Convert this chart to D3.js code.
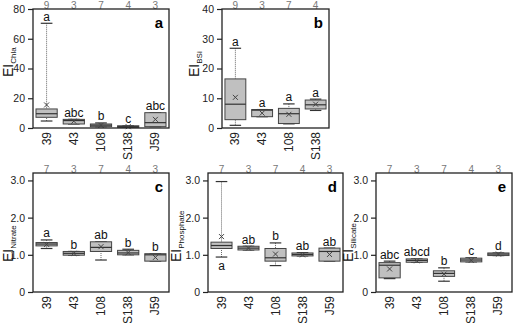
<!DOCTYPE html>
<html>
<head>
<meta charset="utf-8">
<script src="https://cdn.jsdelivr.net/npm/d3@7"></script>
<style>
    body { margin: 0; background: white; }
    svg { font-family: "Liberation Sans", Arial, sans-serif; }
</style>
</head>
<body>
<div id="chart"></div>
<script>

// sites and sample counts
const sites5 = ["39", "43", "108", "S138", "J59"];
const sites4 = ["39", "43", "108", "S138"];
const countsA = [9, 3, 7, 4, 3];
const countsB = [9, 3, 7, 4];
const countsCDE = [7, 3, 7, 4, 3];

// EI Chla
const chlaLow = [4.7, 2.7, 0.9, 0.4, 0.9];
const chlaQ1 = [7.2, 2.7, 0.9, 0.4, 0.9];
const chlaMed = [9.6, 5.0, 1.9, 0.9, 3.6];
const chlaQ3 = [12.8, 5.8, 2.7, 1.5, 10.3];
const chlaHigh = [70.4, 5.8, 3.4, 1.5, 10.3];
const chlaMean = [15.5, 4.6, 1.8, 0.9, 5.8];
const chlaLetters = ["a", "abc", "b", "c", "abc"];

// EI BSi
const bsiLow = [0.9, 3.8, 1.4, 5.9];
const bsiQ1 = [2.8, 3.8, 1.5, 6.4];
const bsiMed = [8.0, 6.0, 4.8, 7.8];
const bsiQ3 = [16.5, 6.2, 6.6, 9.4];
const bsiHigh = [26.8, 6.2, 8.1, 9.7];
const bsiMean = [10.3, 5.0, 4.6, 8.0];
const bsiLetters = ["a", "a", "a", "a"];

// EI Nitrate
const nitLow = [1.17, 0.99, 0.86, 1.0, 0.83];
const nitQ1 = [1.24, 0.99, 1.09, 1.0, 0.83];
const nitMed = [1.29, 1.04, 1.2, 1.05, 1.0];
const nitQ3 = [1.33, 1.09, 1.35, 1.12, 1.03];
const nitHigh = [1.40, 1.09, 1.35, 1.15, 1.03];
const nitMean = [1.28, 1.04, 1.22, 1.06, 0.93];
const nitLetters = ["a", "b", "ab", "b", "b"];

// EI Phosphate
const phoLow = [0.94, 1.13, 0.71, 0.97, 0.83];
const phoQ1 = [1.17, 1.13, 0.83, 0.97, 0.83];
const phoMed = [1.25, 1.18, 0.92, 1.01, 1.09];
const phoQ3 = [1.34, 1.23, 1.17, 1.05, 1.18];
const phoHigh = [2.97, 1.23, 1.32, 1.06, 1.18];
const phoMean = [1.49, 1.18, 1.02, 1.0, 1.01];
const phoLetters = ["a", "ab", "b", "ab", "ab"];

// EI Silicate
const silLow = [0.36, 0.8, 0.29, 0.81, 0.98];
const silQ1 = [0.38, 0.8, 0.42, 0.81, 0.98];
const silMed = [0.72, 0.85, 0.5, 0.86, 1.02];
const silQ3 = [0.79, 0.89, 0.57, 0.91, 1.05];
const silHigh = [0.83, 0.89, 0.65, 0.92, 1.05];
const silMean = [0.62, 0.84, 0.48, 0.85, 1.02];
const silLetters = ["abc", "abcd", "b", "c", "d"];

const ticksA = [0, 20, 40, 60, 80];
const ticksB = [0, 10, 20, 30, 40];
const ticksCDE = [0, 1, 2, 3];

const svg = d3.select("#chart").append("svg")
    .attr("width", 520)
    .attr("height", 323);

function drawPanel(p) {
    let g = svg.append("g");

    let x = d3.scaleBand().domain(p.sites).range([p.x0, p.x1]);
    let y = d3.scaleLinear().domain(p.domain).range([p.y1, p.y0]);
    let boxW = x.bandwidth() * 0.78;
    let capW = boxW * 0.55;

    let rows = p.sites.map((s, i) => ({
        site: s, low: p.low[i], q1: p.q1[i], med: p.med[i], q3: p.q3[i],
        high: p.high[i], mean: p.mean[i], letter: p.letters[i], n: p.counts[i]
    }));

    // y axis
    g.append("g")
        .attr("transform", `translate(${p.x0},0)`)
        .call(d3.axisLeft(y).tickValues(p.ticks).tickSize(5).tickPadding(3).tickSizeOuter(0)
            .tickFormat(p.fmt))
        .call(a => a.select(".domain").remove())
        .call(a => a.selectAll("line").attr("stroke", "#222").attr("stroke-width", 1.2))
        .call(a => a.selectAll("text").attr("font-size", 10.5).attr("fill", "#222")
            .attr("font-family", "Liberation Sans, Arial, sans-serif"));

    // x labels, rotated
    g.append("g").selectAll("text")
        .data(rows).enter().append("text")
        .attr("transform", d => `translate(${x(d.site) + x.bandwidth() / 2 + 4},${p.y1 + 4}) rotate(-90)`)
        .attr("text-anchor", "end")
        .attr("font-size", 12)
        .attr("fill", "#222")
        .text(d => d.site);

    // counts on top
    g.append("g").selectAll("text")
        .data(rows).enter().append("text")
        .attr("x", d => x(d.site) + x.bandwidth() / 2)
        .attr("y", p.y0 - 0.5)
        .attr("text-anchor", "middle")
        .attr("font-size", 10)
        .attr("fill", "#777")
        .text(d => d.n);

    let box = g.selectAll(".box").data(rows).enter().append("g")
        .attr("class", "box")
        .attr("transform", d => `translate(${x(d.site) + x.bandwidth() / 2},0)`);

    // whiskers
    box.append("line")
        .attr("y1", d => y(d.high)).attr("y2", d => y(d.q3))
        .attr("stroke", "#666").attr("stroke-dasharray", "1,1");
    box.append("line")
        .attr("y1", d => y(d.low)).attr("y2", d => y(d.q1))
        .attr("stroke", "#666").attr("stroke-dasharray", "1,1");
    box.append("line")
        .attr("x1", -capW / 2).attr("x2", capW / 2)
        .attr("y1", d => y(d.high)).attr("y2", d => y(d.high))
        .attr("stroke", "#333").attr("stroke-width", 1.2);
    box.append("line")
        .attr("x1", -capW / 2).attr("x2", capW / 2)
        .attr("y1", d => y(d.low)).attr("y2", d => y(d.low))
        .attr("stroke", "#333").attr("stroke-width", 1.2);

    // boxes
    box.append("rect")
        .attr("x", -boxW / 2)
        .attr("width", boxW)
        .attr("y", d => y(d.q3))
        .attr("height", d => Math.max(1, y(d.q1) - y(d.q3)))
        .attr("fill", "#c0c0c0")
        .attr("stroke", "#444")
        .attr("stroke-width", 1);
    box.append("line")
        .attr("x1", -boxW / 2).attr("x2", boxW / 2)
        .attr("y1", d => y(d.med)).attr("y2", d => y(d.med))
        .attr("stroke", "#333").attr("stroke-width", 1.2);

    // mean marker
    box.append("path")
        .attr("d", d => {
            let my = y(d.mean), s = 2.5;
            return `M${-s},${my - s}L${s},${my + s}M${-s},${my + s}L${s},${my - s}`;
        })
        .attr("stroke", "#444").attr("stroke-width", 1);

    // letters
    box.append("text")
        .attr("y", (d, i) => p.below && p.below[i] ? y(d.low) + 13 : y(d.high) - 2.5)
        .attr("text-anchor", "middle")
        .attr("font-size", 12)
        .attr("fill", "#111")
        .text(d => d.letter);

    // frame
    g.append("rect")
        .attr("x", p.x0).attr("y", p.y0)
        .attr("width", p.x1 - p.x0).attr("height", p.y1 - p.y0)
        .attr("fill", "none").attr("stroke", "#222").attr("stroke-width", 1.3);

    // panel letter
    g.append("text")
        .attr("x", p.x1 - 6).attr("y", p.y0 + 19)
        .attr("text-anchor", "end")
        .attr("font-size", 15).attr("font-weight", "bold")
        .text(p.tag);

    // y title (EI with subscript), placed so the subscript sits between tick labels
    let title = g.append("text")
        .attr("transform", `translate(${p.titleX},${p.titleY}) rotate(-90)`)
        .attr("text-anchor", "start")
        .attr("fill", "#111");
    title.append("tspan").attr("font-size", 14).text("EI");
    title.append("tspan").attr("font-size", 8).attr("dy", 3).text(p.sub);
}

drawPanel({sites: sites5, counts: countsA, low: chlaLow, q1: chlaQ1, med: chlaMed, q3: chlaQ3,
    high: chlaHigh, mean: chlaMean, letters: chlaLetters, domain: [0, 80], ticks: ticksA, fmt: d => d,
    x0: 33, x1: 169, y0: 9, y1: 128, tag: "a", sub: "Chla", titleX: 13, titleY: 77});

drawPanel({sites: sites4, counts: countsB, low: bsiLow, q1: bsiQ1, med: bsiMed, q3: bsiQ3,
    high: bsiHigh, mean: bsiMean, letters: bsiLetters, domain: [0, 40], ticks: ticksB, fmt: d => d,
    x0: 222, x1: 329, y0: 9, y1: 128, tag: "b", sub: "BSi", titleX: 199, titleY: 77});

let fmtC = d => d === 0 ? "0" : d3.format(".1f")(d);

drawPanel({sites: sites5, counts: countsCDE, low: nitLow, q1: nitQ1, med: nitMed, q3: nitQ3,
    high: nitHigh, mean: nitMean, letters: nitLetters, domain: [0, 3.2], ticks: ticksCDE, fmt: fmtC,
    x0: 33, x1: 169, y0: 173, y1: 292, tag: "c", sub: "Nitrate", titleX: 13, titleY: 262});

drawPanel({sites: sites5, counts: countsCDE, low: phoLow, q1: phoQ1, med: phoMed, q3: phoQ3,
    high: phoHigh, mean: phoMean, letters: phoLetters, domain: [0, 3.2], ticks: ticksCDE, fmt: fmtC,
    below: [true, false, false, false, false],
    x0: 208, x1: 343, y0: 173, y1: 292, tag: "d", sub: "Phosphate", titleX: 181, titleY: 262});

drawPanel({sites: sites5, counts: countsCDE, low: silLow, q1: silQ1, med: silMed, q3: silQ3,
    high: silHigh, mean: silMean, letters: silLetters, domain: [0, 3.2], ticks: ticksCDE, fmt: fmtC,
    x0: 376, x1: 512, y0: 173, y1: 292, tag: "e", sub: "Silicate", titleX: 353, titleY: 262});

</script>
</body>
</html>
